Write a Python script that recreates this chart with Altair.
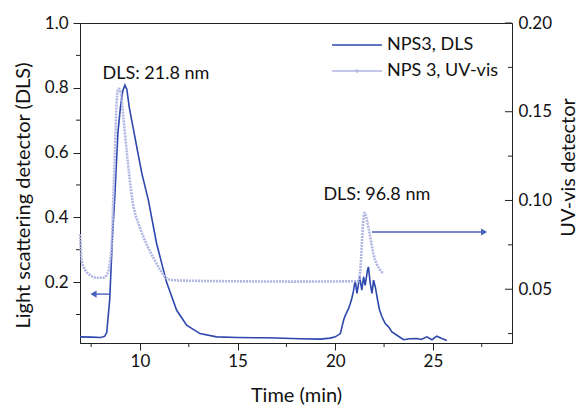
import altair as alt
import pandas as pd

# ---- data ----
dls_t = [6.93, 7.5, 8.0, 8.2, 8.3, 8.45, 8.6, 8.7, 8.87, 9.0, 9.12, 9.23, 9.33, 9.45, 9.64, 9.85,
         10.1, 10.43, 10.85, 11.36, 11.88, 12.39, 13.07, 13.92, 15.0, 16.5, 18.2, 19.23, 19.74,
         20.0, 20.26, 20.43, 20.5, 20.6, 20.68, 20.77, 20.85, 20.94, 21.02, 21.11, 21.25, 21.36,
         21.45, 21.53, 21.65, 21.7, 21.79, 21.88, 21.96, 22.05, 22.17, 22.27, 22.39, 22.56, 22.73,
         22.9, 23.16, 23.5, 23.8, 24.18, 24.4, 24.69, 24.95, 25.2, 25.46, 25.71]
dls_v = [0.031, 0.030, 0.029, 0.033, 0.045, 0.145, 0.35, 0.45, 0.66, 0.74, 0.79, 0.808, 0.795, 0.74,
         0.68, 0.613, 0.535, 0.453, 0.32, 0.2, 0.113, 0.067, 0.041, 0.031, 0.029, 0.028, 0.025, 0.024,
         0.027, 0.031, 0.041, 0.083, 0.095, 0.108, 0.118, 0.134, 0.150, 0.175, 0.206, 0.165, 0.216,
         0.175, 0.216, 0.19, 0.237, 0.247, 0.196, 0.165, 0.206, 0.185, 0.144, 0.114, 0.093, 0.072,
         0.062, 0.046, 0.036, 0.022, 0.025, 0.026, 0.023, 0.031, 0.022, 0.033, 0.026, 0.020]

uv_t = [6.93, 7.02, 7.19, 7.44, 7.79, 8.12, 8.3, 8.47, 8.58, 8.63, 8.72, 8.81, 8.89, 9.01, 9.15,
        9.32, 9.62, 10.0, 10.34, 10.68, 11.02, 11.36, 11.7, 13.07, 18.18, 21.19, 21.28, 21.36,
        21.45, 21.5, 21.59, 21.7, 21.83, 21.96, 22.13, 22.34, 22.47]
uv_v = [0.081, 0.066, 0.061, 0.058, 0.0565, 0.0565, 0.058, 0.066, 0.081, 0.0997, 0.128, 0.156,
        0.163, 0.161, 0.147, 0.128, 0.0997, 0.0847, 0.0753, 0.0678, 0.0613, 0.0562, 0.0551,
        0.0547, 0.0543, 0.0545, 0.060, 0.0753, 0.0903, 0.0931, 0.0903, 0.0847, 0.0772, 0.0697,
        0.0641, 0.0603, 0.0588]

series_names = ["NPS3, DLS", "NPS 3, UV-vis"]
annot_t = [10.82, 22.13]
annot_v = [0.844, 0.470]
annot_text = ["DLS: 21.8 nm", "DLS: 96.8 nm"]

left_arrow_t = [8.47, 7.62]   # line start, arrow head
left_arrow_v = [0.163]
right_arrow_t = [21.88, 27.62]
right_arrow_v = [0.0822]

x_major = [10, 15, 20, 25]
x_minor = [7.5, 12.5, 17.5, 22.5, 27.5]
yl_major = [0.2, 0.4, 0.6, 0.8, 1.0]
yl_minor = [0.1, 0.3, 0.5, 0.7, 0.9]
yr_major = [0.05, 0.10, 0.15, 0.20]
yr_minor = [0.025, 0.075, 0.125, 0.175]

# ---- styling ----
FONT = "Lato"
DARK = "#2d47ad"
LIGHT = "#b1b5e3"
ARROW = "#4761bf"
W, H = 432, 320

dls = pd.DataFrame({"t": dls_t, "v": dls_v})
uv = pd.DataFrame({"t": uv_t, "r": uv_v})
ann = pd.DataFrame({"t": annot_t, "v": annot_v, "label": annot_text})
la = pd.DataFrame({"t": [left_arrow_t[0]], "t2": [left_arrow_t[1]], "v": left_arrow_v})
lah = pd.DataFrame({"t": [left_arrow_t[1]], "v": left_arrow_v})
ra = pd.DataFrame({"t": [right_arrow_t[0]], "t2": [right_arrow_t[1]], "r": right_arrow_v})
rah = pd.DataFrame({"t": [right_arrow_t[1]], "r": right_arrow_v})

xs = alt.Scale(domain=[6.93, 29.05], nice=False, zero=False)
yls = alt.Scale(domain=[0.012, 1.0], nice=False, zero=False)
yrs = alt.Scale(domain=[0.0197, 0.2], nice=False, zero=False)

x_axis = alt.Axis(values=x_major, format="d", title="Time (min)", tickSize=7, labelPadding=3,
                  titleY=52, titleBaseline="middle", grid=False)
yl_axis = alt.Axis(values=yl_major, format=".1f", title="Light scattering detector (DLS)",
                   tickSize=7, labelPadding=5, titleX=-57, titleY=172, titleBaseline="middle",
                   titleAngle=270, grid=False)
yr_axis = alt.Axis(values=yr_major, format=".2f", title="UV-vis detector", orient="right",
                   ticks=False, labelPadding=6, titleX=56, titleY=144, titleBaseline="middle",
                   titleAngle=270, grid=False)


def X(f="t"):
    return alt.X(f"{f}:Q", scale=xs, axis=x_axis)


def YL():
    return alt.Y("v:Q", scale=yls, axis=yl_axis)


def YR():
    return alt.Y("r:Q", scale=yrs, axis=yr_axis)


dls_line = alt.Chart(dls).mark_line(color=DARK, strokeWidth=1.6).encode(x=X(), y=YL())
left_arrow = alt.Chart(la).mark_rule(color=ARROW, strokeWidth=1.4).encode(
    x=X(), x2="t2:Q", y=YL())
left_head = alt.Chart(lah).mark_point(shape="triangle-left", filled=True, color=ARROW, size=50,
                                      opacity=1).encode(x=X(), y=YL())
annots = alt.Chart(ann).mark_text(font=FONT, fontSize=18, color="#111", align="center",
                                  baseline="middle").encode(x=X(), y=YL(), text="label:N")
ylm = alt.Chart(pd.DataFrame({"v": yl_minor})).mark_rule(color="#222").encode(
    y=YL(), x=alt.value(-4), x2=alt.value(0))
xm = alt.Chart(pd.DataFrame({"t": x_minor})).mark_rule(color="#222").encode(
    x=X(), y=alt.value(H), y2=alt.value(H + 4))

# legend drawn by hand
leg_df = pd.DataFrame({"k": [0]})
leg1_line = alt.Chart(leg_df).mark_rule(color=DARK, strokeWidth=1.6).encode(
    x=alt.value(252), x2=alt.value(302), y=alt.value(22))
leg2_line = alt.Chart(leg_df).mark_rule(color=LIGHT, strokeWidth=1.6).encode(
    x=alt.value(252), x2=alt.value(302), y=alt.value(48))
leg2_pt = alt.Chart(leg_df).mark_point(color=LIGHT, size=12, filled=True, opacity=1).encode(
    x=alt.value(277), y=alt.value(48))
leg1_txt = alt.Chart(leg_df).mark_text(font=FONT, fontSize=18, align="left", baseline="middle",
                                       color="#111", text=series_names[0]).encode(
    x=alt.value(307), y=alt.value(22))
leg2_txt = alt.Chart(leg_df).mark_text(font=FONT, fontSize=18, align="left", baseline="middle",
                                       color="#111", text=series_names[1]).encode(
    x=alt.value(307), y=alt.value(48))

left_group = alt.layer(dls_line, left_arrow, left_head, annots, ylm, xm,
                       leg1_line, leg2_line, leg2_pt, leg1_txt, leg2_txt)

uv_line = alt.Chart(uv).mark_line(color=LIGHT, strokeWidth=2.6, interpolate="monotone",
                                  strokeDash=[2, 1]).encode(x=X(), y=YR())
right_arrow = alt.Chart(ra).mark_rule(color=ARROW, strokeWidth=1.4).encode(
    x=X(), x2="t2:Q", y=YR())
right_head = alt.Chart(rah).mark_point(shape="triangle-right", filled=True, color=ARROW, size=50,
                                       opacity=1).encode(x=X(), y=YR())
yrM = alt.Chart(pd.DataFrame({"r": yr_major})).mark_rule(color="#222").encode(
    y=YR(), x=alt.value(W - 7), x2=alt.value(W))
yrm = alt.Chart(pd.DataFrame({"r": yr_minor})).mark_rule(color="#222").encode(
    y=YR(), x=alt.value(W - 4), x2=alt.value(W))

right_group = alt.layer(uv_line, right_arrow, right_head, yrM, yrm)

chart = alt.layer(left_group, right_group).resolve_scale(y="independent").properties(
    width=W, height=H,
    autosize=alt.AutoSizeParams(type="none"),
    padding={"left": 72, "top": 15, "right": 67, "bottom": 62},
).configure_view(stroke="#222", strokeWidth=1).configure_axis(
    labelFont=FONT, titleFont=FONT, labelFontSize=17, titleFontSize=20,
    labelColor="#111", titleColor="#111", domainColor="#222", tickColor="#222",
    titleFontWeight="normal",
)

chart.save("out.html", embed_options={"renderer": "svg", "actions": False})
